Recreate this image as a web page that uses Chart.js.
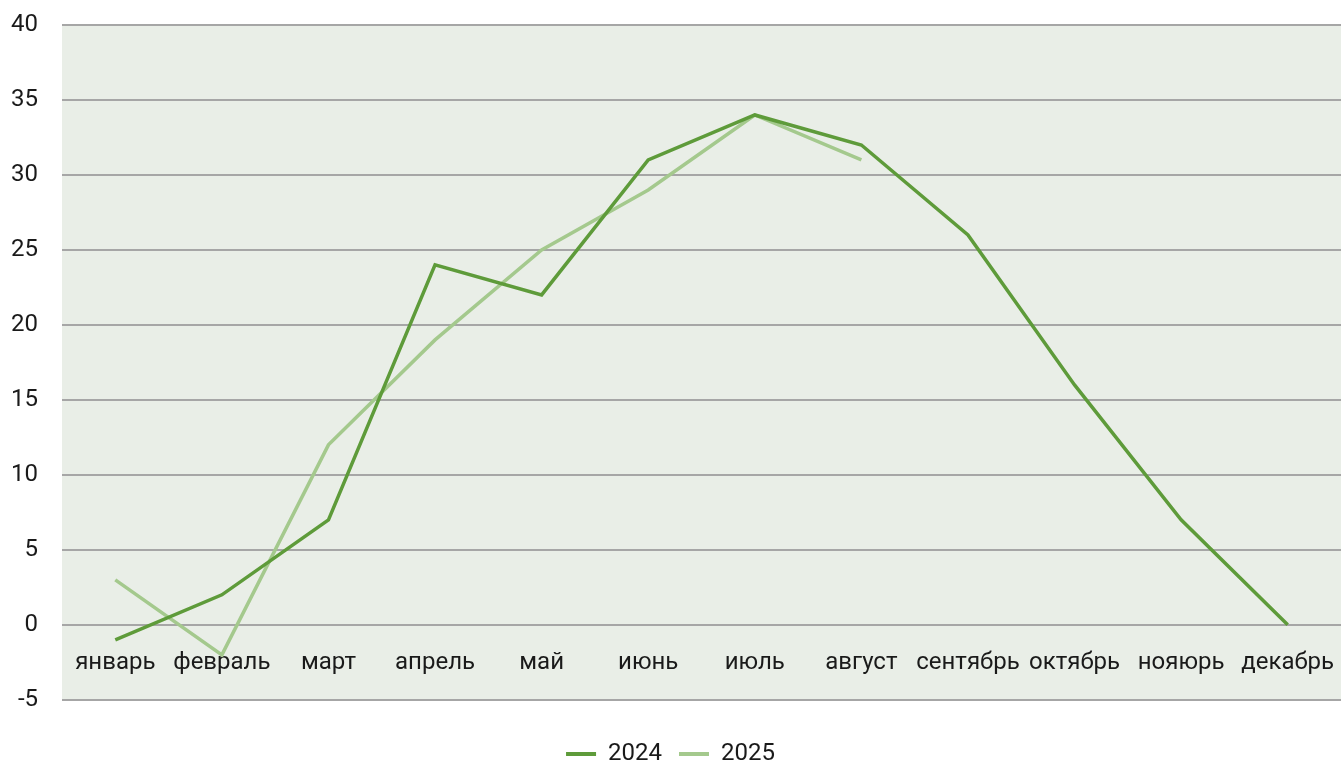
<!DOCTYPE html>
<html>
<head>
<meta charset="utf-8">
<script src="https://cdn.jsdelivr.net/npm/chart.js@4"></script>
<style>
  html, body { margin: 0; padding: 0; background: #fff; }
  #wrap { width: 1341px; height: 767px; }
</style>
</head>
<body>
<div id="wrap"><canvas id="tempChart"></canvas></div>
<script>
const months = ['январь', 'февраль', 'март', 'апрель', 'май', 'июнь', 'июль', 'август', 'сентябрь', 'октябрь', 'нояюрь', 'декабрь'];
const values2024 = [-1, 2, 7, 24, 22, 31, 34, 32, 26, 16, 7, 0];
const values2025 = [3, -2, 12, 19, 25, 29, 34, 31, null, null, null, null];
const yMin = -5;
const yMax = 40;
const yStep = 5;

const fontFamily = "Roboto, 'Open Sans', sans-serif";

// fill the plot area
const plotBg = {
  id: 'plotBg',
  beforeDraw(chart) {
    const { ctx, chartArea } = chart;
    ctx.save();
    ctx.fillStyle = '#e9eee7';
    ctx.fillRect(chartArea.left, chartArea.top, chartArea.right - chartArea.left, chartArea.bottom - chartArea.top);
    ctx.restore();
  }
};

const ctx = document.getElementById('tempChart');
new Chart(ctx, {
  type: 'line',
  data: {
    labels: months,
    datasets: [{
      label: '2024',
      data: values2024,
      borderColor: '#5e9b3a',
      backgroundColor: '#5e9b3a',
      borderWidth: 3.5,
      pointRadius: 0,
      tension: 0
    }, {
      label: '2025',
      data: values2025,
      borderColor: '#a4c98d',
      backgroundColor: '#a4c98d',
      borderWidth: 3.5,
      pointRadius: 0,
      tension: 0,
      spanGaps: false
    }]
  },
  options: {
    responsive: true,
    maintainAspectRatio: false,
    animation: false,
    layout: { padding: { left: 0, right: 0, top: 25, bottom: -9 } },
    scales: {
      x: {
        position: { y: 0 },
        offset: true,
        grid: { display: false, drawTicks: false },
        border: { display: false },
        afterFit(scale) {
          // labels sit inside the plot, don't let them shrink it
          scale.paddingLeft = 0;
          scale.paddingRight = 0;
        },
        ticks: {
          color: '#1a1a1a',
          padding: 24,
          maxRotation: 0,
          autoSkip: false,
          font: { family: fontFamily, size: 24 }
        }
      },
      y: {
        min: yMin,
        max: yMax,
        grid: { color: '#a6a6a6', lineWidth: 2, drawTicks: false },
        border: { display: false },
        afterFit(scale) {
          scale.width = 62;
          scale.paddingTop = 0;
          scale.paddingBottom = 0;
        },
        ticks: {
          stepSize: yStep,
          color: '#1a1a1a',
          padding: 24,
          font: { family: fontFamily, size: 24 }
        }
      }
    },
    plugins: {
      legend: {
        position: 'bottom',
        title: { display: true, text: '', font: { size: 1 }, padding: { top: 24, bottom: 0 } },
        labels: {
          color: '#1a1a1a',
          boxWidth: 30,
          boxHeight: 4,
          padding: 17,
          font: { family: fontFamily, size: 24 },
          generateLabels(chart) {
            return chart.data.datasets.map((ds, i) => ({
              text: ds.label,
              fillStyle: ds.borderColor,
              strokeStyle: ds.borderColor,
              lineWidth: 0,
              fontColor: '#1a1a1a',
              hidden: !chart.isDatasetVisible(i),
              datasetIndex: i
            }));
          }
        }
      },
      tooltip: { enabled: false }
    }
  },
  plugins: [plotBg]
});
</script>
</body>
</html>
